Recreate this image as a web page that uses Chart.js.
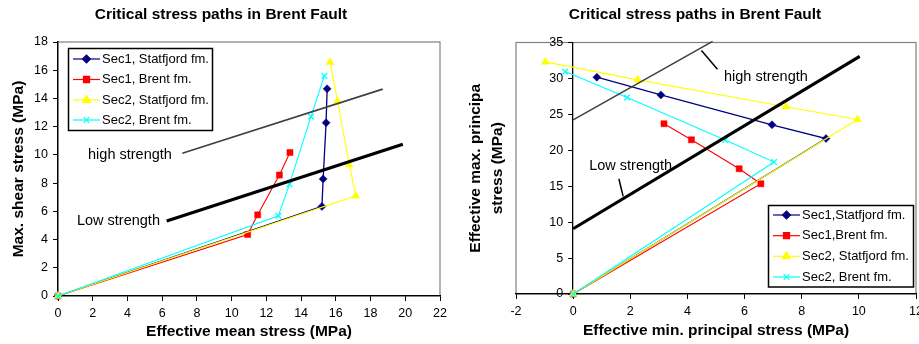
<!DOCTYPE html>
<html><head><meta charset="utf-8">
<script src="https://cdn.jsdelivr.net/npm/chart.js@4"></script>
<style>
html,body{margin:0;padding:0;background:#fff;overflow:hidden;width:919px;height:344px;}
#wrap{position:relative;width:919px;height:344px;overflow:hidden;background:#fff;}
#c1{position:absolute;left:0;top:0;width:460px;height:344px;}
#c2{position:absolute;left:460px;top:0;width:470px;height:344px;}
</style></head><body>
<div id="wrap"><canvas id="c1" width="460" height="344"></canvas><canvas id="c2" width="470" height="344"></canvas></div>
<script>
// ---------- shared ----------
const chartTitle = 'Critical stress paths in Brent Fault';

// ---------- left chart: effective mean stress vs max shear stress ----------
const leftNames = ['Sec1, Statfjord fm.', 'Sec1, Brent fm.', 'Sec2, Statfjord fm.', 'Sec2, Brent fm.'];
const leftSec1StatX  = [0, 15.20, 15.27, 15.44, 15.50];
const leftSec1StatY  = [0, 6.35, 8.30, 12.28, 14.68];
const leftSec1BrentX = [0, 10.92, 11.50, 12.75, 13.36];
const leftSec1BrentY = [0, 4.36, 5.75, 8.57, 10.17];
const leftSec2StatX  = [0, 17.15, 16.78, 16.10, 15.67];
const leftSec2StatY  = [0, 7.10, 9.30, 13.80, 16.57];
const leftSec2BrentX = [0, 12.69, 13.33, 14.57, 15.34];
const leftSec2BrentY = [0, 5.68, 7.93, 12.71, 15.60];
const leftHighX = [7.16, 18.70];
const leftHighY = [10.11, 14.66];
const leftLowX  = [6.26, 19.86];
const leftLowY  = [5.31, 10.75];
const leftXTicks = [0, 2, 4, 6, 8, 10, 12, 14, 16, 18, 20, 22];
const leftYTicks = [0, 2, 4, 6, 8, 10, 12, 14, 16, 18];

// ---------- right chart: effective min vs max principal stress ----------
const rightNames = ['Sec1,Statfjord fm.', 'Sec1,Brent fm.', 'Sec2, Statfjord fm.', 'Sec2, Brent fm.'];
const rightSec1StatX  = [0, 8.85, 6.96, 3.07, 0.83];
const rightSec1StatY  = [0, 21.64, 23.55, 27.70, 30.17];
const rightSec1BrentX = [0, 6.57, 5.81, 4.14, 3.18];
const rightSec1BrentY = [0, 15.34, 17.43, 21.46, 23.69];
const rightSec2StatX  = [0, 9.95, 7.45, 2.26, -0.97];
const rightSec2StatY  = [0, 24.29, 26.05, 29.80, 32.30];
const rightSec2BrentX = [0, 7.03, 5.32, 1.89, -0.28];
const rightSec2BrentY = [0, 18.36, 21.42, 27.35, 30.96];
const rightHighX = [0, 4.88];
const rightHighY = [24.23, 35.15];
const rightLowX  = [0, 10.03];
const rightLowY  = [9.08, 33.06];
const rightHighPointerX = [4.49, 5.05];
const rightHighPointerY = [33.88, 31.29];
const rightLowPointerX  = [1.60, 1.75];
const rightLowPointerY  = [16.04, 13.58];
const rightXTicks = [-2, 0, 2, 4, 6, 8, 10, 12];
const rightYTicks = [0, 5, 10, 15, 20, 25, 30, 35];

// ---------- styles ----------
const FONT = "'Liberation Sans', Arial, sans-serif";
Chart.defaults.font.family = FONT;
Chart.defaults.color = '#000';
const COLORS = ['#000080', '#FF0000', '#FFFF00', '#00FFFF'];
const PSTYLE = ['rectRot', 'rect', 'triangle', 'crossRot'];
const PRAD = [4, 4.3, 4.6, 4];

function pts(xs, ys) { return xs.map((x, i) => ({x: x, y: ys[i]})); }
function series(label, xs, ys, k) {
  return {label: label, data: pts(xs, ys), showLine: true, borderColor: COLORS[k], backgroundColor: COLORS[k],
    borderWidth: k === 0 ? 1.3 : 1.1, pointStyle: PSTYLE[k], pointRadius: PRAD[k], pointHoverRadius: PRAD[k],
    pointBackgroundColor: COLORS[k], pointBorderColor: COLORS[k], pointBorderWidth: k === 3 ? 1.3 : 0.5,
    yAxisID: 'y', xAxisID: 'x', clip: false, order: 10 - k};
}
function plainLine(xs, ys, color, w) {
  return {label: '', data: pts(xs, ys), showLine: true, borderColor: color, borderWidth: w, pointRadius: 0,
    pointHoverRadius: 0, yAxisID: 'y', xAxisID: 'x', clip: false, order: 0};
}

// ---------- decoration plugin: plot frame, chart title, text notes, in-plot legend ----------
const decor = {
  id: 'decor',
  afterLayout(chart, args, o) {
    if (o.yAxisAt !== undefined) {
      const y = chart.scales.y, px = chart.scales.x.getPixelForValue(o.yAxisAt);
      y.right = px; y.left = px - 40; y.width = 40;
    }
  },
  beforeDraw(chart, args, o) {
    const a = chart.chartArea, ctx = chart.ctx;
    ctx.save();
    ctx.strokeStyle = '#808080'; ctx.lineWidth = 1.2;
    ctx.strokeRect(a.left, a.top, a.right - a.left, a.bottom - a.top);
    ctx.restore();
  },
  afterDraw(chart, args, o) {
    const ctx = chart.ctx, xs = chart.scales.x, ys = chart.scales.y;
    ctx.save();
    ctx.fillStyle = '#000';
    ctx.textBaseline = 'middle';
    ctx.textAlign = 'center';
    ctx.font = 'bold 15.5px ' + FONT;
    ctx.fillText(o.title, o.titleX, o.titleY);
    ctx.textAlign = 'left';
    ctx.font = '14.5px ' + FONT;
    (o.notes || []).forEach(n => ctx.fillText(n.text, xs.getPixelForValue(n.x), ys.getPixelForValue(n.y)));
    const L = o.legend;
    if (L) {
      ctx.fillStyle = '#fff';
      ctx.fillRect(L.x, L.y, L.w, L.h);
      ctx.strokeStyle = '#000'; ctx.lineWidth = 1.5;
      ctx.strokeRect(L.x, L.y, L.w, L.h);
      ctx.font = '13px ' + FONT;
      L.names.forEach((name, k) => {
        const y = L.rows[k];
        ctx.strokeStyle = COLORS[k]; ctx.fillStyle = COLORS[k]; ctx.lineWidth = 1.2;
        ctx.beginPath(); ctx.moveTo(L.lx1, y); ctx.lineTo(L.lx2, y); ctx.stroke();
        Chart.helpers.drawPoint(ctx, {pointStyle: PSTYLE[k], rotation: 0, radius: PRAD[k], borderWidth: k === 3 ? 1.3 : 0.5}, (L.lx1 + L.lx2) / 2, y);
        ctx.fillStyle = '#000';
        ctx.fillText(name, L.tx, y);
      });
    }
    ctx.restore();
  }
};

function tickSetter(arr) { return s => { s.ticks = arr.map(v => ({value: v})); }; }
const tickFont = {size: 12.5};
const axisTitleFont = {size: 15.5, weight: 'bold'};

// ---------- left chart ----------
new Chart(document.getElementById('c1'), {
  type: 'scatter',
  data: {datasets: [
    plainLine(leftLowX, leftLowY, '#000000', 3.2),
    plainLine(leftHighX, leftHighY, '#404040', 1.6),
    series(leftNames[0], leftSec1StatX, leftSec1StatY, 0),
    series(leftNames[1], leftSec1BrentX, leftSec1BrentY, 1),
    series(leftNames[2], leftSec2StatX, leftSec2StatY, 2),
    series(leftNames[3], leftSec2BrentX, leftSec2BrentY, 3)
  ]},
  options: {
    responsive: false, animation: false, events: [],
    layout: {padding: {left: 0, top: 42, right: 20, bottom: 0}},
    plugins: {legend: {display: false}, title: {display: false}, tooltip: {enabled: false},
      decor: {title: chartTitle, titleX: 221, titleY: 15,
        notes: [{text: 'high strength', x: 1.73, y: 10.0}, {text: 'Low strength', x: 1.09, y: 5.33}],
        legend: {x: 68.5, y: 48.5, w: 144, h: 82, rows: [59, 79.5, 100, 120], lx1: 73, lx2: 100, tx: 102, names: leftNames}}},
    scales: {
      x: {type: 'linear', min: 0, max: 22, afterBuildTicks: tickSetter(leftXTicks), afterFit: s => { s.height = 48; },
        ticks: {font: tickFont, color: '#000', padding: 5, maxRotation: 0, autoSkip: false},
        grid: {display: true, drawOnChartArea: false, drawTicks: true, tickLength: 5, color: '#000', lineWidth: 1},
        border: {display: true, color: '#000', width: 1.3},
        title: {display: true, text: 'Effective mean stress (MPa)', font: axisTitleFont, color: '#000', padding: {top: 0, bottom: 3}}},
      y: {type: 'linear', min: 0, max: 18, afterBuildTicks: tickSetter(leftYTicks), afterFit: s => { s.width = 58; },
        ticks: {font: tickFont, color: '#000', padding: 5, autoSkip: false},
        grid: {display: true, drawOnChartArea: false, drawTicks: true, tickLength: 5, color: '#000', lineWidth: 1},
        border: {display: true, color: '#000', width: 1.3},
        title: {display: true, text: 'Max. shear stress (MPa)', font: axisTitleFont, color: '#000', padding: {top: 9, bottom: 0}}}
    }
  },
  plugins: [decor]
});

// ---------- right chart ----------
new Chart(document.getElementById('c2'), {
  type: 'scatter',
  data: {datasets: [
    plainLine(rightLowX, rightLowY, '#000000', 3.2),
    plainLine(rightHighX, rightHighY, '#404040', 1.6),
    plainLine(rightHighPointerX, rightHighPointerY, '#000000', 1.5),
    plainLine(rightLowPointerX, rightLowPointerY, '#000000', 1.5),
    series(rightNames[0], rightSec1StatX, rightSec1StatY, 0),
    series(rightNames[1], rightSec1BrentX, rightSec1BrentY, 1),
    series(rightNames[2], rightSec2StatX, rightSec2StatY, 2),
    series(rightNames[3], rightSec2BrentX, rightSec2BrentY, 3)
  ]},
  options: {
    responsive: false, animation: false, events: [],
    layout: {padding: {left: 0, top: 42.5, right: 14, bottom: 0}},
    plugins: {legend: {display: false}, title: {display: false}, tooltip: {enabled: false},
      decor: {title: chartTitle, titleX: 235, titleY: 15, yAxisAt: 0,
        notes: [{text: 'high strength', x: 5.28, y: 30.26}, {text: 'Low strength', x: 0.56, y: 17.75}],
        legend: {x: 308.5, y: 205.5, w: 145, h: 81.5, rows: [215, 235.7, 256.3, 277], lx1: 313, lx2: 340, tx: 342, names: rightNames}}},
    scales: {
      x: {type: 'linear', min: -2, max: 12, afterBuildTicks: tickSetter(rightXTicks), afterFit: s => { s.height = 50; },
        ticks: {font: tickFont, color: '#000', padding: 5, maxRotation: 0, autoSkip: false},
        grid: {display: true, drawOnChartArea: false, drawTicks: true, tickLength: 5, color: '#000', lineWidth: 1},
        border: {display: true, color: '#000', width: 1.3},
        title: {display: true, text: 'Effective min. principal stress (MPa)', font: axisTitleFont, color: '#000', padding: {top: 0, bottom: 4}}},
      y: {type: 'linear', axis: 'y', position: 'left', min: 0, max: 35, afterBuildTicks: tickSetter(rightYTicks),
        afterFit: s => { s.width = 0; },
        ticks: {font: tickFont, color: '#000', padding: 5, autoSkip: false},
        grid: {display: true, drawOnChartArea: false, drawTicks: true, tickLength: 5, color: '#000', lineWidth: 1},
        border: {display: true, color: '#000', width: 1.3},
        title: {display: false}},
      yT: {type: 'linear', axis: 'y', position: 'left', min: 0, max: 1, afterFit: s => { s.width = 56; },
        ticks: {display: false}, grid: {display: false}, border: {display: false},
        title: {display: true, text: ['Effective max. principa', 'stress (MPa)'], font: {size: 15.5, weight: 'bold', lineHeight: 1.4}, color: '#000', padding: {top: 5, bottom: 0}}}
    }
  },
  plugins: [decor]
});
</script>
</body></html>
